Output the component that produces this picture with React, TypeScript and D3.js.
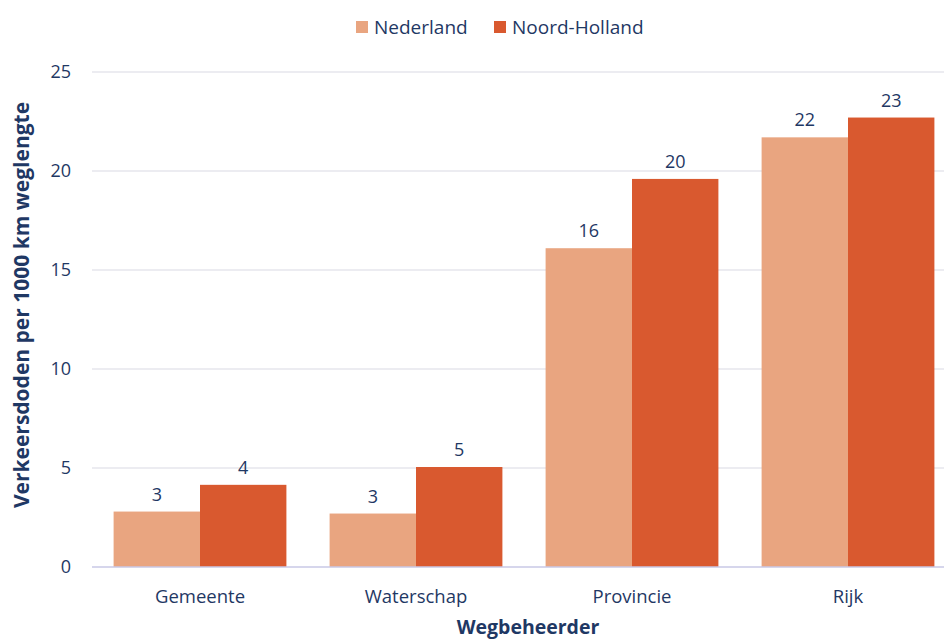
import React from "react";
import * as d3 from "d3";

const categories = ["Gemeente", "Waterschap", "Provincie", "Rijk"];
const seriesNames = ["Nederland", "Noord-Holland"];
const nederland = [2.8, 2.7, 16.1, 21.7];
const noordHolland = [4.15, 5.05, 19.6, 22.7];
const nederlandLabels = ["3", "3", "16", "22"];
const noordHollandLabels = ["4", "5", "20", "23"];
const yTicks = [0, 5, 10, 15, 20, 25];
const colors = ["#E9A580", "#D9592F"];

const W = 944;
const H = 639;
const TEXT = "#1F3864";
const FONT = "'Open Sans', 'Noto Sans', sans-serif";

export default function App() {
  const x = d3.scaleBand<string>().domain(categories).range([92, 956]).paddingInner(0.2).paddingOuter(0.1);
  const inner = d3.scaleBand<string>().domain(seriesNames).range([0, x.bandwidth()]);
  const y = d3.scaleLinear().domain([0, 25]).range([567, 72]);
  const series = [
    { name: seriesNames[0], values: nederland, labels: nederlandLabels, color: colors[0] },
    { name: seriesNames[1], values: noordHolland, labels: noordHollandLabels, color: colors[1] },
  ];
  return (
    <svg width={W} height={H} style={{ position: "absolute", left: 0, top: 0, display: "block" }} fontFamily={FONT}>
      <rect width={W} height={H} fill="#fff" />
      {yTicks.map((t) => (
        <g key={t}>
          {t > 0 && <line x1={92} x2={W} y1={y(t)} y2={y(t)} stroke="#D9D9E3" strokeWidth={1} />}
          <text x={71} y={y(t)} dy="0.35em" textAnchor="end" fontSize={18} fill={TEXT}>{t}</text>
        </g>
      ))}
      {series.map((s) =>
        categories.map((c, i) => {
          const bx = (x(c) as number) + (inner(s.name) as number);
          const bw = inner.bandwidth();
          return (
            <g key={s.name + c}>
              <rect x={bx} y={y(s.values[i])} width={bw} height={y(0) - y(s.values[i])} fill={s.color} />
              <text x={bx + bw / 2} y={y(s.values[i]) - 11} textAnchor="middle" fontSize={18} fill={TEXT}>{s.labels[i]}</text>
            </g>
          );
        })
      )}
      <line x1={92} x2={W} y1={y(0)} y2={y(0)} stroke="#C9C9E6" strokeWidth={1.5} />
      {categories.map((c) => (
        <text key={c} x={(x(c) as number) + x.bandwidth() / 2} y={603} textAnchor="middle" fontSize={18.5} fill={TEXT}>{c}</text>
      ))}
      <text x={528} y={634} textAnchor="middle" fontSize={19.5} fontWeight="bold" fill={TEXT}>Wegbeheerder</text>
      <text transform={`translate(29,305) rotate(-90)`} textAnchor="middle" fontSize={21} fontWeight="bold" fill={TEXT}>
        Verkeersdoden per 1000 km weglengte
      </text>
      <g>
        <rect x={356} y={21} width={12} height={12} fill={colors[0]} />
        <text x={374} y={27} dy="0.35em" fontSize={19} fill={TEXT}>{seriesNames[0]}</text>
        <rect x={494} y={21} width={12} height={12} fill={colors[1]} />
        <text x={512} y={27} dy="0.35em" fontSize={19} fill={TEXT}>{seriesNames[1]}</text>
      </g>
    </svg>
  );
}
